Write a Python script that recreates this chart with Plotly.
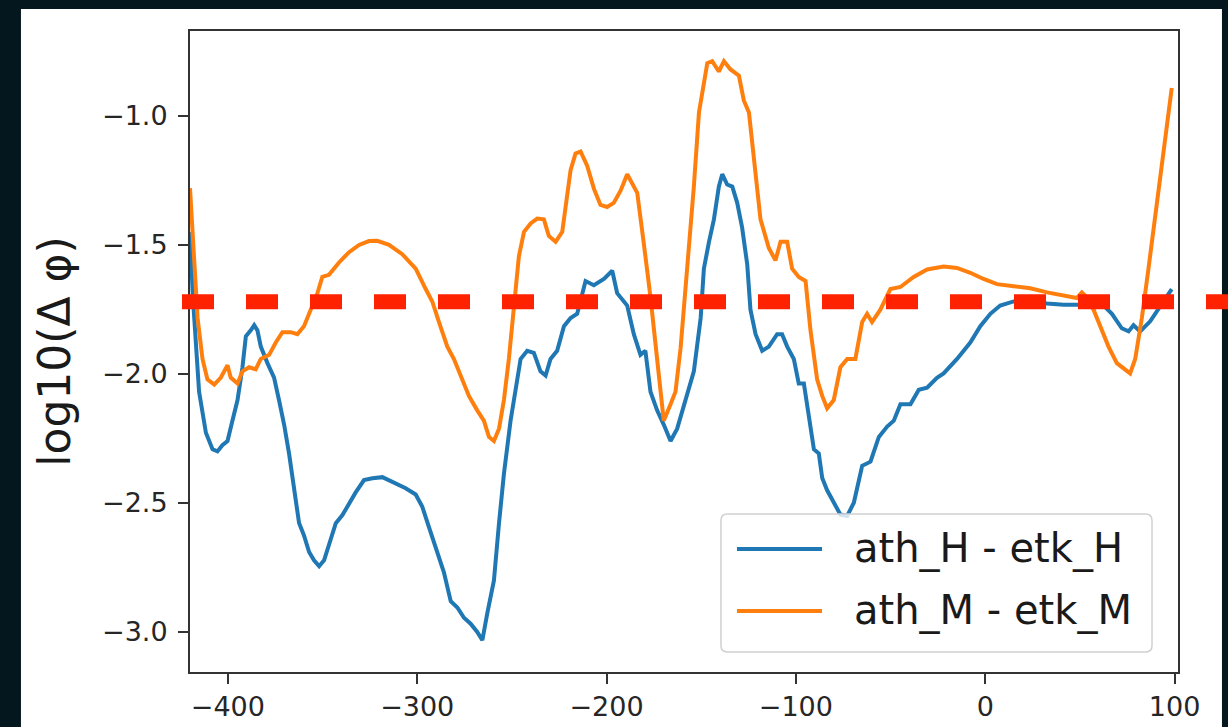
import plotly.graph_objects as go

# ---------------- data ----------------
name_H = "ath_H - etk_H"
name_M = "ath_M - etk_M"

x_H = [-420, -418.5, -415.2, -411.6, -408.1, -405.5, -402.9, -400.2, -397.6, -394.9,
       -392.3, -390.5, -387.9, -386.1, -384.4, -382.6, -379.1, -375.6, -373.0, -370.3,
       -367.7, -365.0, -362.4, -359.8, -357.1, -354.5, -351.8, -349.2, -346.6, -343.0,
       -339.5, -336.0, -332.5, -328.1, -323.7, -318.4, -313.1, -306.1, -300.8, -297.3,
       -293.8, -290.3, -285.9, -282.3, -278.8, -275.3, -271.8, -268.3, -265.6, -263.0,
       -259.5, -256.8, -254.2, -250.7, -248.1, -245.4, -241.9, -238.4, -234.9, -232.2,
       -229.6, -226.1, -222.5, -219.0, -215.5, -211.1, -206.7, -201.4, -197.0, -194.4,
       -189.1, -185.6, -182.1, -179.5, -176.8, -173.3, -169.8, -166.2, -162.7, -159.5,
       -157.4, -153.9, -150.3, -148.6, -145.9, -143.3, -140.7, -138.9, -136.3, -133.6,
       -131.0, -128.4, -125.7, -124.0, -121.3, -117.8, -114.3, -109.9, -107.3, -104.6,
       -101.1, -98.5, -95.8, -93.2, -90.5, -87.9, -86.1, -83.5, -80.0, -76.5,
       -72.9, -69.4, -65.0, -60.6, -56.2, -51.8, -48.3, -44.8, -39.5, -35.1,
       -30.7, -25.5, -22.0, -14.9, -7.9, -2.6, 2.7, 7.9, 15.0, 23.8,
       32.6, 41.4, 50.2, 57.2, 62.5, 66.9, 72.1, 75.7, 78.3, 81.8,
       87.1, 94.1, 98.5]
y_H = [-1.45, -1.70, -2.069, -2.228, -2.292, -2.300, -2.276, -2.260, -2.181, -2.101,
       -1.974, -1.854, -1.831, -1.811, -1.831, -1.894, -1.958, -2.014, -2.101, -2.196,
       -2.308, -2.435, -2.578, -2.626, -2.690, -2.722, -2.745, -2.722, -2.658, -2.578,
       -2.547, -2.499, -2.459, -2.411, -2.404, -2.400, -2.419, -2.443, -2.467, -2.515,
       -2.594, -2.674, -2.769, -2.881, -2.905, -2.945, -2.968, -3.000, -3.032, -2.928,
       -2.801, -2.578, -2.387, -2.181, -2.069, -1.942, -1.910, -1.918, -1.990, -2.006,
       -1.942, -1.910, -1.815, -1.783, -1.767, -1.640, -1.656, -1.632, -1.600, -1.687,
       -1.735, -1.846, -1.926, -1.910, -2.069, -2.141, -2.196, -2.260, -2.212, -2.130,
       -2.069, -1.990, -1.783, -1.592, -1.488, -1.401, -1.274, -1.226, -1.266, -1.274,
       -1.337, -1.433, -1.576, -1.751, -1.846, -1.910, -1.894, -1.846, -1.846, -1.894,
       -1.942, -2.037, -2.037, -2.165, -2.292, -2.308, -2.403, -2.451, -2.499, -2.545,
       -2.550, -2.499, -2.356, -2.340, -2.244, -2.204, -2.181, -2.117, -2.117, -2.061,
       -2.053, -2.015, -1.998, -1.942, -1.878, -1.815, -1.767, -1.735, -1.719, -1.719,
       -1.727, -1.732, -1.732, -1.743, -1.735, -1.767, -1.823, -1.835, -1.811, -1.835,
       -1.796, -1.719, -1.671]

x_M = [-420, -417.8, -416.0, -413.4, -410.8, -407.2, -403.7, -400.2, -398.5, -394.9,
       -392.3, -388.8, -385.3, -382.6, -378.2, -374.7, -371.2, -366.8, -363.3, -359.8,
       -356.2, -352.7, -350.1, -346.6, -341.3, -336.0, -330.7, -325.5, -321.1, -314.9,
       -307.9, -300.8, -295.5, -292.0, -288.5, -284.1, -280.6, -276.2, -272.7, -268.3,
       -264.8, -262.1, -259.5, -256.8, -254.2, -251.6, -248.9, -246.3, -243.6, -240.1,
       -236.6, -233.1, -230.5, -226.9, -223.4, -221.7, -219.0, -216.4, -213.7, -210.2,
       -206.7, -203.2, -199.7, -196.2, -192.6, -189.1, -186.5, -183.8, -180.3, -176.8,
       -173.3, -169.8, -166.2, -163.6, -160.9, -157.4, -153.9, -151.2, -149.5, -146.8,
       -144.2, -140.7, -138.0, -134.5, -130.1, -127.5, -124.8, -122.2, -118.7, -114.3,
       -110.8, -108.1, -104.6, -102.0, -98.5, -94.9, -92.3, -88.8, -86.1, -83.5,
       -80.0, -76.5, -72.9, -68.6, -65.0, -62.4, -59.8, -55.4, -50.1, -44.8,
       -37.8, -30.7, -22.0, -14.9, -7.9, -0.9, 6.2, 15.0, 23.8, 32.6,
       41.4, 48.4, 51.0, 53.7, 57.2, 60.7, 65.1, 69.5, 73.9, 76.5,
       79.2, 82.7, 86.2, 89.7, 94.1, 98.5]
y_M = [-1.28, -1.560, -1.783, -1.942, -2.021, -2.041, -2.014, -1.966, -2.014, -2.037,
       -1.990, -1.974, -1.982, -1.942, -1.926, -1.878, -1.838, -1.838, -1.846, -1.815,
       -1.751, -1.687, -1.624, -1.616, -1.568, -1.528, -1.500, -1.485, -1.484, -1.500,
       -1.536, -1.592, -1.671, -1.720, -1.799, -1.894, -1.942, -2.021, -2.085, -2.141,
       -2.181, -2.244, -2.260, -2.212, -2.101, -1.942, -1.751, -1.544, -1.449, -1.417,
       -1.398, -1.401, -1.465, -1.488, -1.449, -1.353, -1.210, -1.146, -1.138, -1.194,
       -1.282, -1.345, -1.353, -1.337, -1.290, -1.226, -1.258, -1.298, -1.496, -1.703,
       -1.942, -2.181, -2.117, -2.069, -1.900, -1.600, -1.274, -0.987, -0.908, -0.796,
       -0.788, -0.828, -0.788, -0.820, -0.844, -0.940, -0.987, -1.178, -1.401, -1.512,
       -1.560, -1.488, -1.488, -1.592, -1.624, -1.640, -1.831, -2.021, -2.085, -2.133,
       -2.101, -1.974, -1.942, -1.942, -1.799, -1.767, -1.799, -1.751, -1.671, -1.663,
       -1.624, -1.595, -1.584, -1.589, -1.608, -1.632, -1.652, -1.660, -1.668, -1.684,
       -1.695, -1.706, -1.684, -1.703, -1.751, -1.815, -1.894, -1.958, -1.982, -1.998,
       -1.942, -1.783, -1.592, -1.385, -1.146, -0.892]

threshold = -1.72
x_ticks = [-400, -300, -200, -100, 0, 100]
y_ticks = [-1.0, -1.5, -2.0, -2.5, -3.0]
y_title = "log10(Δ φ)"

blue = "#1f77b4"
orange = "#ff7f0e"
FONT = "DejaVu Sans"

fig = go.Figure()
fig.add_trace(go.Scatter(x=x_H, y=y_H, mode="lines", name=name_H,
                         line=dict(color=blue, width=4), showlegend=False))
fig.add_trace(go.Scatter(x=x_M, y=y_M, mode="lines", name=name_M,
                         line=dict(color=orange, width=4), showlegend=False))

shapes = []
# white slide panel behind the chart
shapes.append(dict(type="rect", xref="paper", yref="paper",
                   x0=-0.1711, x1=1.0445, y0=-0.095, y1=1.0343,
                   fillcolor="white", line=dict(width=0), layer="below"))
# threshold dashed line
shapes.append(dict(type="line", xref="paper", yref="y",
                   x0=-0.0081, x1=1.07, y0=threshold, y1=threshold,
                   line=dict(color="#ff2200", width=15, dash="32px,32px"),
                   layer="above"))

# manual legend box (rounded)
lx0, lx1, ly0, ly1 = 0.5374, 0.9737, 0.0312, 0.2465
rx, ry = 0.0065, 0.010
path = (f"M{lx0+rx},{ly0} L{lx1-rx},{ly0} Q{lx1},{ly0} {lx1},{ly0+ry} "
        f"L{lx1},{ly1-ry} Q{lx1},{ly1} {lx1-rx},{ly1} L{lx0+rx},{ly1} "
        f"Q{lx0},{ly1} {lx0},{ly1-ry} L{lx0},{ly0+ry} Q{lx0},{ly0} {lx0+rx},{ly0} Z")
shapes.append(dict(type="path", xref="paper", yref="paper", path=path,
                   fillcolor="rgba(255,255,255,0.8)",
                   line=dict(color="#d0d0d0", width=1.5), layer="above"))
leg_rows = [(name_H, blue, 0.1919), (name_M, orange, 0.0952)]
annotations = []
for nm, col, yy in leg_rows:
    shapes.append(dict(type="line", xref="paper", yref="paper",
                       x0=0.5536, x1=0.6397, y0=yy, y1=yy,
                       line=dict(color=col, width=4), layer="above"))
    annotations.append(dict(xref="paper", yref="paper", x=0.670, y=yy,
                            xanchor="left", yanchor="middle", text=nm,
                            showarrow=False,
                            font=dict(family=FONT, size=40, color="#1a1a1a")))

fig.update_layout(
    width=1228, height=727,
    margin=dict(l=190, r=50, t=31, b=55),
    paper_bgcolor="#04161e",
    plot_bgcolor="white",
    shapes=shapes,
    annotations=annotations,
    showlegend=False,
    font=dict(family=FONT, color="#262626"),
)
fig.update_xaxes(range=[-420, 101.8], tickvals=x_ticks, automargin=False,
                 ticks="outside", ticklen=10, tickwidth=2, tickcolor="#333",
                 showline=True, linecolor="#333", linewidth=2, mirror=True,
                 showgrid=False, zeroline=False,
                 tickfont=dict(family=FONT, size=27, color="#262626"))
fig.update_yaxes(range=[-3.155, -0.671], tickvals=y_ticks, tickformat=".1f",
                 automargin=False,
                 ticks="outside", ticklen=10, tickwidth=2, tickcolor="#333",
                 showline=True, linecolor="#333", linewidth=2, mirror=True,
                 showgrid=False, zeroline=False, ticklabelstandoff=5,
                 tickfont=dict(family=FONT, size=27, color="#262626"),
                 title=dict(text=y_title, standoff=18,
                            font=dict(family=FONT, size=44, color="#1a1a1a")))

fig.write_html("out.html")
